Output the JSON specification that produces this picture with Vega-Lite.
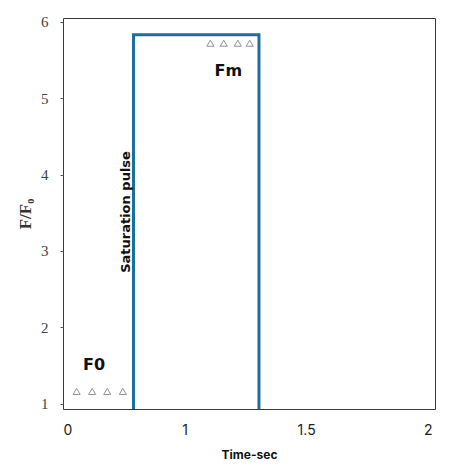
{
  "$schema": "https://vega.github.io/schema/vega-lite/v6.json",
  "autosize": "none",
  "width": 372,
  "height": 391,
  "padding": {"left": 63, "top": 18, "right": 17, "bottom": 61},
  "background": "white",
  "config": {"view": {"stroke": "#3a3a3a", "strokeWidth": 1}},
  "datasets": {
    "pulse": [
      {"order": 1, "t": 0.79, "v": 0.93},
      {"order": 2, "t": 0.79, "v": 5.83},
      {"order": 3, "t": 1.306, "v": 5.83},
      {"order": 4, "t": 1.306, "v": 0.93}
    ],
    "points": [
      {"t": 0.556, "v": 1.16},
      {"t": 0.62, "v": 1.16},
      {"t": 0.682, "v": 1.16},
      {"t": 0.746, "v": 1.16},
      {"t": 1.106, "v": 5.72},
      {"t": 1.161, "v": 5.72},
      {"t": 1.219, "v": 5.72},
      {"t": 1.268, "v": 5.72}
    ],
    "labels": [
      {"t": 0.628, "v": 1.51, "label": "F0"},
      {"t": 1.18, "v": 5.35, "label": "Fm"}
    ],
    "vlabel": [
      {"t": 0.76, "v": 3.51, "label": "Saturation pulse"}
    ]
  },
  "layer": [
    {
      "data": {"name": "pulse"},
      "mark": {"type": "line", "color": "#1c6f9c", "strokeWidth": 3, "clip": true},
      "encoding": {
        "x": {
          "field": "t", "type": "quantitative",
          "scale": {"domain": [0.5, 2.03], "nice": false, "zero": false},
          "axis": {
            "values": [0.5, 1, 1.5, 2],
            "format": "~g",
            "labelExpr": "datum.value == 0.5 ? '0' : datum.label",
            "title": "Time-sec",
            "domain": false, "ticks": false, "grid": false,
            "labelFont": "Inter", "labelFontSize": 14, "labelColor": "#222",
            "labelPadding": 14,
            "titleFont": "Inter", "titleFontSize": 12, "titleFontWeight": "bold", "titleColor": "#111",
            "titlePadding": 12
          }
        },
        "y": {
          "field": "v", "type": "quantitative",
          "scale": {"domain": [0.93, 6.05], "nice": false, "zero": false},
          "axis": {
            "values": [1, 2, 3, 4, 5, 6],
            "format": "d",
            "title": "F/F₀",
            "domain": false, "grid": false,
            "ticks": true, "tickSize": 3, "tickColor": "#555",
            "labelFont": "Liberation Serif", "labelFontSize": 15, "labelColor": "#444",
            "labelPadding": 12,
            "titleFont": "Liberation Serif", "titleFontSize": 17, "titleFontWeight": "bold", "titleColor": "#333",
            "titlePadding": 6
          }
        },
        "order": {"field": "order", "type": "quantitative"}
      }
    },
    {
      "data": {"name": "points"},
      "mark": {"type": "point", "shape": "triangle-up", "filled": false, "stroke": "#666", "strokeWidth": 1, "size": 50},
      "encoding": {
        "x": {"field": "t", "type": "quantitative"},
        "y": {"field": "v", "type": "quantitative"}
      }
    },
    {
      "data": {"name": "labels"},
      "mark": {"type": "text", "font": "DejaVu Sans", "fontWeight": "bold", "fontSize": 16, "color": "#111"},
      "encoding": {
        "x": {"field": "t", "type": "quantitative"},
        "y": {"field": "v", "type": "quantitative"},
        "text": {"field": "label"}
      }
    },
    {
      "data": {"name": "vlabel"},
      "mark": {"type": "text", "font": "DejaVu Sans", "fontWeight": "bold", "fontSize": 13, "color": "#111", "angle": 270},
      "encoding": {
        "x": {"field": "t", "type": "quantitative"},
        "y": {"field": "v", "type": "quantitative"},
        "text": {"field": "label"}
      }
    }
  ]
}
